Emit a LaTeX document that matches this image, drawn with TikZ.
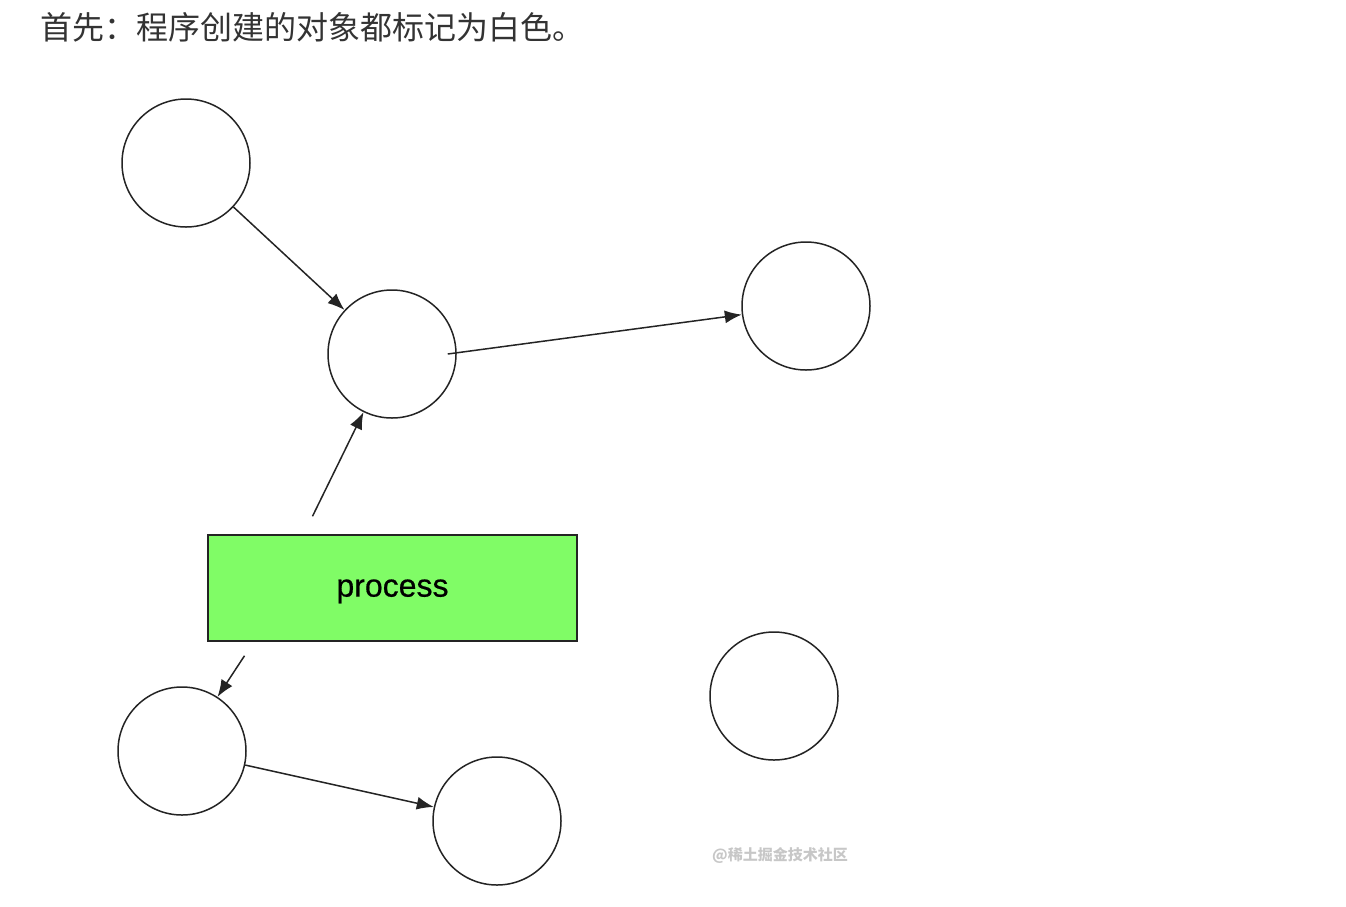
\documentclass[tikz,border=0pt]{standalone}
\usepackage{fontspec}
\usetikzlibrary{arrows.meta}
\newfontfamily\cjk{Noto Sans CJK SC}
\newfontfamily\procfont[FakeBold=0.6]{Liberation Sans}

\definecolor{procgreen}{RGB}{128,252,102}
\definecolor{inkgray}{RGB}{36,36,36}
\definecolor{titlegray}{RGB}{51,51,51}

\tikzstyle{obj}=[draw=inkgray,line width=1.5pt,circle,minimum size=128pt,inner sep=0pt,fill=white]
\tikzstyle{procbox}=[draw=inkgray,line width=1.5pt,fill=procgreen,minimum width=369pt,minimum height=106pt,inner sep=0pt,text depth=0pt]
\tikzstyle{ref}=[draw=inkgray,line width=1.5pt,-{Latex[length=17pt,width=13pt]}]

\begin{document}
\begin{tikzpicture}[x=1pt,y=-1pt]

   \useasboundingbox (0,0) rectangle (1346,906);

   % Title

   \node[anchor=west,text=titlegray,font=\cjk\fontsize{32}{36}\selectfont] (title) at (37,27) {首先：程序创建的对象都标记为白色。};

   % Objects

   \node[obj] (a) at (186,163) {};
   \node[obj] (b) at (392,354) {};
   \node[obj] (c) at (806,306) {};
   \node[obj] (d) at (182,751) {};
   \node[obj] (e) at (497,821) {};
   \node[obj] (f) at (774,696) {};

   % Process

   \node[procbox,font=\procfont\fontsize{32}{36}\selectfont] (proc) at (392.5,588) {process};

   \coordinate (p1) at ([xshift=-80pt,yshift=18pt]proc.north);
   \coordinate (p2) at ([xshift=-148pt,yshift=-14pt]proc.south);

   % References

   \draw[ref] (a) -- (b);
   \draw[ref] ([xshift=-9pt]b.east) -- (c);
   \draw[ref] (p1) -- (b);
   \draw[ref] (p2) -- (d);
   \draw[ref] (d) -- (e);

   % Watermark

   \node[text=black!22,font=\cjk\bfseries\fontsize{15}{18}\selectfont] (mark) at (780,855) {@稀土掘金技术社区};

\end{tikzpicture}
\end{document}
